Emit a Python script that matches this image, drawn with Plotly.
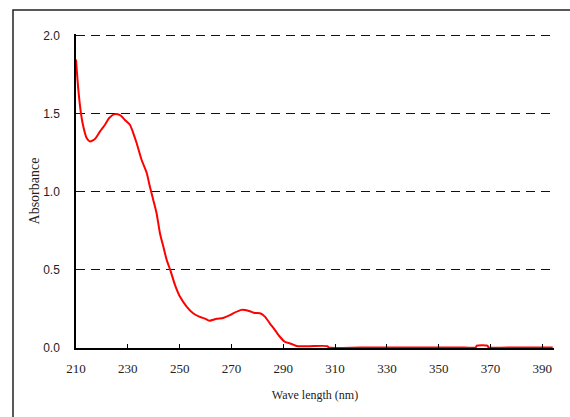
import plotly.graph_objects as go

# Wavelength (nm) and absorbance
wavelength = [210.0, 210.9, 211.9, 212.8, 214.1, 215.4, 217.3, 219.3, 221.2, 222.8,
              225.0, 227.0, 228.9, 230.8, 232.1, 233.4, 235.3, 237.3, 238.5, 239.8,
              241.1, 242.4, 243.7, 245.0, 246.5, 248.2, 250.1, 252.7, 255.2, 257.8,
              259.8, 261.5, 264.3, 266.8, 269.4, 270.7, 273.9, 277.1, 279.0, 281.0,
              282.9, 284.8, 286.8, 288.7, 290.6, 293.2, 295.1, 300.0, 307.0, 307.6,
              320.0, 340.0, 360.0, 364.3, 364.7, 368.8, 369.2, 380.0, 394.0]
absorbance = [1.846, 1.654, 1.504, 1.419, 1.344, 1.322, 1.338, 1.387, 1.429, 1.472,
              1.497, 1.490, 1.460, 1.429, 1.376, 1.312, 1.205, 1.120, 1.034, 0.949,
              0.863, 0.735, 0.649, 0.564, 0.494, 0.404, 0.329, 0.265, 0.222, 0.199,
              0.188, 0.175, 0.187, 0.192, 0.210, 0.222, 0.244, 0.235, 0.224, 0.222,
              0.201, 0.158, 0.115, 0.072, 0.040, 0.026, 0.013, 0.012, 0.012, 0.003,
              0.003, 0.003, 0.003, 0.003, 0.015, 0.015, 0.004, 0.004, 0.004]

x_ticks = [210, 230, 250, 270, 290, 310, 330, 350, 370, 390]
y_ticks = [0.0, 0.5, 1.0, 1.5, 2.0]

fig = go.Figure()
fig.add_trace(go.Scatter(x=wavelength, y=absorbance, mode="lines", line_shape="spline",
                         line=dict(color="#ff0000", width=2, smoothing=0.6), showlegend=False))

fig.update_layout(
    width=570, height=417,
    margin=dict(l=76, r=16, t=34, b=69),
    paper_bgcolor="white", plot_bgcolor="white",
    xaxis=dict(range=[210, 394.5], tickvals=x_ticks, ticktext=[str(v) for v in x_ticks],
               automargin=False,
               showgrid=False, zeroline=False, showline=True, linecolor="black", linewidth=1.5,
               ticks="inside", ticklen=4, tickcolor="black", tickwidth=1,
               ticklabelstandoff=8,
               tickfont=dict(family="Liberation Serif", size=13, color="#222"),
               title=dict(text="Wave length (nm)", standoff=15,
                          font=dict(family="Liberation Serif", size=12, color="#222"))),
    yaxis=dict(range=[0, 2.01], tickvals=y_ticks, tickformat=".1f",
               automargin=False,
               showgrid=True, gridcolor="#111", griddash="9px,6px", gridwidth=1,
               zeroline=False, showline=True, linecolor="black", linewidth=1.5,
               ticks="", ticklabelstandoff=12,
               tickfont=dict(family="Liberation Sans", size=12, color="#222"),
               title=dict(text="Absorbance", standoff=0,
                          font=dict(family="Liberation Serif", size=14, color="#222"))),
    shapes=[dict(type="rect", xref="paper", yref="paper",
                 x0=-0.1318, x1=1.044, y0=-0.2293, y1=1.0765,
                 line=dict(color="#222", width=1.5), fillcolor="rgba(0,0,0,0)", layer="below")],
)

fig.write_html("out.html", config={"displayModeBar": False})

# remove the browser's default page margin so the figure sits at the window origin
with open("out.html", "r", encoding="utf-8") as f:
    html = f.read()
html = html.replace("<body>", '<body style="margin:0;padding:0;overflow:hidden">', 1)
with open("out.html", "w", encoding="utf-8") as f:
    f.write(html)
